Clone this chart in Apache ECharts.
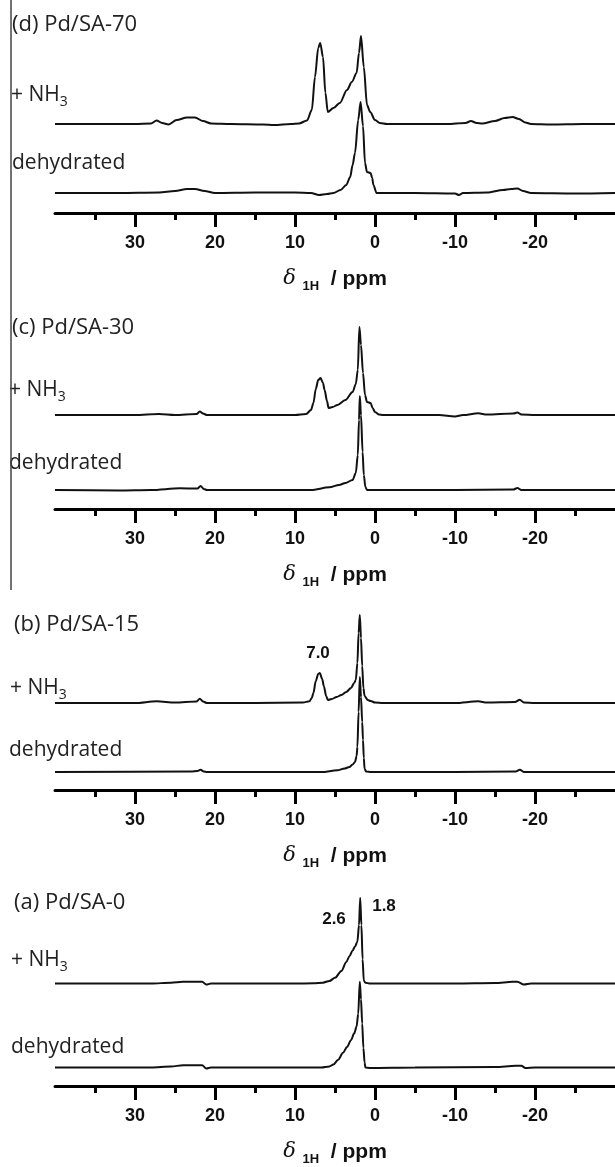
<!DOCTYPE html>
<html><head><meta charset="utf-8">
<script src="https://cdn.jsdelivr.net/npm/echarts@6/dist/echarts.min.js"></script>
<style>html,body{margin:0;padding:0;background:#fff}#c{width:615px;height:1167px}</style>
</head><body><div id="c"></div>
<script>
// ---- data (ppm, intensity in a.u. above each trace's own baseline) ----
const panelTitles = ['(d) Pd/SA-70', '(c) Pd/SA-30', '(b) Pd/SA-15', '(a) Pd/SA-0'];
const tickValues = [30, 20, 10, 0, -10, -20];

const d_nh3_ppm = [40,30,28,27.3,26.6,25.8,24.8,23.5,22.5,21.5, 20.5,18,14,12.6,10.5,9.5,8.5,7.9,7.5,7.1, 6.85,6.5,6.2,5.9,5.2,4.4,3.5,2.9,2.3,2.0, 1.75,1.4,1.0,0.6,0,-0.6,-1.5,-5,-9,-11.3, -12,-12.7,-13.4,-15,-16.2,-17.2,-18,-18.8,-19.5,-22, -26,-30];
const d_nh3_int = [0,0,0.5,3.5,1,-0.5,4,6.5,6.5,3, 0.5,0,-0.5,-1,0,0.5,3.5,14,47,76, 81,67,31,12,16,21,34,42,51,71, 88,57,19,12,4,1,0,0,0,1, 3,1,0.5,3,6,7,5,1.5,0,-0.5, 0,0];
const d_deh_ppm = [40,32,27,25,23.5,22.5,21.3,20,15,10, 8,7,6,5.2,4.3,3.6,3.1,2.8,2.5,2.1, 1.8,1.5,1.25,1.0,0.55,0.35,0.2,-0.2,-5,-10, -10.5,-11,-14,-16,-17,-17.8,-18.5,-19.5,-25,-30];
const d_deh_int = [0,0,0.5,2,4,4,2,0,0.5,0.5, 0,-2,-1,0,3,8,16,28,40,73, 91,67,30,21,20,15,8,0,0,-0.5, -2,0,0.5,3,4,4.5,2,0,-0.5,0];

const c_nh3_ppm = [40,30,27,25,22.3,21.9,21.5,21,15,10, 8.6,8,7.7,7.4,7.1,6.8,6.5,6.3,6.0,5.8, 5.3,4.7,3.7,2.8,2.4,2.15,1.95,1.75,1.5,1.25, 1.0,0.55,0.3,0,-0.5,-1,-8,-10,-11,-12.9, -14,-17.3,-17.8,-18.3,-20,-30];
const c_nh3_int = [0,0,1,0,1,3.5,1.5,0,0,0, 1,5,12,26,35,37,32,25,14,7, 8,10,15,23,31,45,88,70,42,20, 13,12,7,3,0.5,0,0,-1.5,0,1.7, 0.5,1.5,2.5,0.5,0,0];
const c_deh_ppm = [40,32,28,24.4,22.2,21.8,21.4,21,15,8, 5.7,4.5,3.7,2.8,2.4,2.15,2.0,1.9,1.75,1.55, 1.4,1.2,1.0,-10,-17.3,-17.8,-18.3,-30];
const c_deh_int = [0,-0.5,0,1.7,1.5,4,1,0,0,0, 2.7,5,7,10,17,35,70,94,75,38, 15,3,0,0,0.5,2,0,0];

const b_nh3_ppm = [40,30,27.3,25,22.3,21.9,21.5,21,15,9, 8.2,7.9,7.7,7.4,7.1,6.9,6.6,6.4,6.1,5.9, 5.4,4.8,4.2,3.6,3.0,2.6,2.4,2.2,2.05,1.9, 1.75,1.6,1.45,1.3,0.9,0.55,0,-1,-10,-12.9, -14,-17.5,-18.1,-18.6,-20,-30];
const b_nh3_int = [0,0,1.7,0.5,1.5,4.3,1.5,0,0,0.5, 1.7,5,10,22,29,30,24,17,7,3, 4,6,8,11,15,20,23,40,70,88, 65,37,15,7,3,2,0.5,0,0,1.7, 0.5,1,3.3,0.5,0,0];
const b_deh_ppm = [40,23,22.2,21.8,21.4,21,10,6.7,4.7,3.8, 3.2,2.8,2.5,2.3,2.2,2.05,1.9,1.75,1.6,1.5, 1.4,1.3,1.1,0.5,-10,-17.6,-18.1,-18.6,-30];
const b_deh_int = [0,0.5,1,2.3,0.5,0,0,0,1.7,3.5, 5,7.5,10,16,25,60,95,75,50,32, 14,3,0.5,0,0,0.5,2.3,0,0];

const a_nh3_ppm = [40,28,25.5,24,22.5,21.6,21.1,20.5,10,7.7, 6.5,5.7,5.0,4.2,3.6,3.2,2.8,2.5,2.2,2.0, 1.85,1.7,1.55,1.4,1.2,0.6,-10,-15,-17.2,-17.8, -18.6,-19.5,-30];
const a_nh3_int = [0,0,1,2,2,2,-1,0,0,0.3, 1,2.7,6,13,22,28,34,38,43,60, 88,60,25,3,1,0,0,0.5,2,2, -1,0,0];
const a_deh_ppm = [40,28,25.5,24,22.5,21.6,21.1,20.5,10,6.7, 5.7,5.2,4.6,4.0,3.5,3.0,2.6,2.3,2.1,1.9, 1.75,1.6,1.45,1.3,1.2,0.6,-5,-15,-17.6,-18.3, -18.8,-20,-30];
const a_deh_int = [0,0,1,2.3,2.3,2.3,-1,0,0,0, 1,3,8,15,21,28,35,42,55,88, 70,45,20,5,0,-0.5,0,0.5,1.7,1.7, -0.5,0,0];

const peakLabels = ['7.0', '2.6', '1.8'];

// ---- layout (not data) ----
const layout = [
  { top: 20,  height: 193, ymin: -20, ymax: 173, offset: 69, title: [12, 25],  nh3: [11, 95],  deh: [12, 163] },
  { top: 310, height: 199, ymin: -19, ymax: 180, offset: 75, title: [12, 328], nh3: [9, 390],  deh: [9, 463] },
  { top: 600, height: 190, ymin: -18, ymax: 172, offset: 69, title: [14, 625], nh3: [10, 688], deh: [9, 750] },
  { top: 890, height: 201, ymin: -19, ymax: 182, offset: 86, title: [14, 903], nh3: [11, 960], deh: [11, 1047] }
];
const spectra = [
  [d_nh3_ppm, d_nh3_int, d_deh_ppm, d_deh_int],
  [c_nh3_ppm, c_nh3_int, c_deh_ppm, c_deh_int],
  [b_nh3_ppm, b_nh3_int, b_deh_ppm, b_deh_int],
  [a_nh3_ppm, a_nh3_int, a_deh_ppm, a_deh_int]
];

const LABEL_FONT = 'Open Sans';
const TICK_FONT = 'Liberation Sans';

const grid = [], xAxis = [], yAxis = [], series = [], graphic = [];
layout.forEach((L, i) => {
  grid.push({ left: 55, right: 0, top: L.top, height: L.height });
  xAxis.push({
    gridIndex: i, type: 'value', inverse: true, min: -30, max: 40, interval: 10,
    axisLine: { show: true, onZero: false, lineStyle: { color: '#000', width: 3 } },
    axisTick: { show: true, customValues: tickValues, length: 14, lineStyle: { color: '#000', width: 3 } },
    minorTick: { show: true, splitNumber: 2, length: 7, lineStyle: { color: '#000', width: 3 } },
    axisLabel: { customValues: tickValues, margin: 21, fontSize: 18, fontWeight: 'bold', fontFamily: TICK_FONT, color: '#111' },
    splitLine: { show: false },
    name: '{d|δ }{s|1H}{p|  / ppm}', nameLocation: 'middle', nameGap: 52,
    nameTextStyle: {
      rich: {
        d: { fontFamily: 'DejaVu Serif', fontStyle: 'italic', fontSize: 21, lineHeight: 28, verticalAlign: 'middle', color: '#111' },
        s: { fontFamily: TICK_FONT, fontWeight: 'bold', fontSize: 13, lineHeight: 13, verticalAlign: 'bottom', color: '#111' },
        p: { fontFamily: TICK_FONT, fontWeight: 'bold', fontSize: 21, lineHeight: 28, verticalAlign: 'middle', color: '#111' }
      }
    }
  });
  yAxis.push({ gridIndex: i, type: 'value', min: L.ymin, max: L.ymax, show: false });
  const s = spectra[i];
  const mk = (ppm, inten, off) => ppm.map((p, k) => [p, inten[k] + off]);
  [[s[0], s[1], L.offset], [s[2], s[3], 0]].forEach(([p, v, off]) => {
    series.push({
      type: 'line', xAxisIndex: i, yAxisIndex: i, data: mk(p, v, off),
      showSymbol: false, smooth: 0.3, smoothMonotone: 'x', silent: true,
      lineStyle: { color: '#111', width: 2 }
    });
  });
  graphic.push({ type: 'text', x: L.title[0], y: L.title[1],
    style: { text: panelTitles[i], fontFamily: LABEL_FONT, fontSize: 22, fill: '#222', verticalAlign: 'middle' } });
  graphic.push({ type: 'text', x: L.nh3[0], y: L.nh3[1],
    style: { text: '{m|+ NH}{s|3}', verticalAlign: 'middle',
      rich: { m: { fontFamily: LABEL_FONT, fontSize: 21, lineHeight: 28, verticalAlign: 'middle', fill: '#222' },
              s: { fontFamily: LABEL_FONT, fontSize: 14, lineHeight: 14, verticalAlign: 'bottom', fill: '#222' } } } });
  graphic.push({ type: 'text', x: L.deh[0], y: L.deh[1],
    style: { text: 'dehydrated', fontFamily: LABEL_FONT, fontSize: 21, fill: '#222', verticalAlign: 'middle' } });
});

graphic.push({ type: 'line', shape: { x1: 11, y1: 0, x2: 11, y2: 590 }, style: { stroke: '#444', lineWidth: 1.5 } });
const annPos = [[318, 653], [334, 919], [384, 906]];
peakLabels.forEach((t, k) => {
  graphic.push({ type: 'text', x: annPos[k][0], y: annPos[k][1],
    style: { text: t, fontFamily: TICK_FONT, fontWeight: 'bold', fontSize: 17, fill: '#111', align: 'center', verticalAlign: 'middle' } });
});

const chart = echarts.init(document.getElementById('c'), null, { renderer: 'canvas' });
chart.setOption({ animation: false, backgroundColor: '#fff', grid, xAxis, yAxis, series, graphic });
</script></body></html>
